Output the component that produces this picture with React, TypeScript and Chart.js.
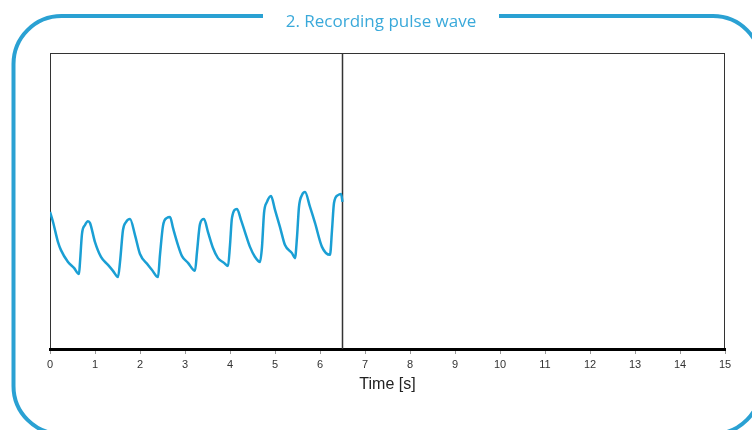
import React, { useEffect, useRef } from "react";
import { Chart, registerables } from "chart.js";

Chart.register(...registerables);

const TITLE = "2. Recording pulse wave";
const X_TITLE = "Time [s]";
const X_MIN = 0;
const X_MAX = 15;
const CURSOR_TIME = 6.5;

const timeS = [
  0.0, 0.067, 0.178, 0.244, 0.4, 0.533, 0.644, 0.667, 0.711, 0.778, 0.844, 0.889,
  1.0, 1.133, 1.289, 1.4, 1.511, 1.556, 1.622, 1.689, 1.778, 1.889, 2.0, 2.178,
  2.267, 2.4, 2.444, 2.511, 2.6, 2.667, 2.733, 2.844, 2.933, 3.067, 3.222, 3.267,
  3.333, 3.422, 3.511, 3.622, 3.733, 3.867, 3.956, 4.0, 4.044, 4.156, 4.244, 4.333,
  4.444, 4.556, 4.667, 4.711, 4.756, 4.822, 4.911, 5.0, 5.111, 5.222, 5.378, 5.444,
  5.489, 5.533, 5.6, 5.667, 5.778, 5.889, 6.044, 6.222, 6.267, 6.311, 6.4, 6.467, 6.5,
];

const pulse = [
  46.3, 42.9, 36.1, 33.4, 29.4, 27.4, 25.3, 29.4, 38.9, 41.9, 43.2, 42.6,
  36.1, 31.1, 28.4, 26.4, 24.3, 29.4, 40.2, 42.9, 43.9, 38.5, 32.1, 28.4,
  26.7, 24.3, 31.8, 41.6, 44.3, 44.6, 40.9, 35.1, 31.4, 29.1, 26.4, 32.8,
  42.2, 43.9, 39.5, 34.1, 30.7, 29.1, 28.0, 35.1, 44.3, 47.3, 43.6, 39.5,
  34.5, 31.1, 29.4, 34.5, 45.9, 49.7, 51.7, 47.0, 41.2, 35.1, 32.4, 30.7,
  37.8, 48.0, 52.0, 53.0, 48.0, 42.6, 34.5, 31.8, 40.2, 49.3, 52.0, 52.4, 49.7,
];

const Y_MIN = 0;
const Y_MAX = 100;

const framePlugin = {
  id: "framePlugin",
  beforeDraw(chart: any) {
    const { ctx, chartArea } = chart;
    ctx.save();
    ctx.fillStyle = "#ffffff";
    ctx.fillRect(0, 0, chart.width, chart.height);
    ctx.strokeStyle = "#333333";
    ctx.lineWidth = 1;
    ctx.strokeRect(
      Math.round(chartArea.left) + 0.5,
      Math.round(chartArea.top) + 0.5,
      Math.round(chartArea.right - chartArea.left) - 1,
      Math.round(chartArea.bottom - chartArea.top)
    );
    ctx.restore();
  },
  afterDraw(chart: any) {
    const { ctx } = chart;
    ctx.save();
    const l = 13.5, t = 16, r = 761, b = 434, rad = 48;
    const gapL = 263, gapR = 499;
    ctx.strokeStyle = "#2aa1d3";
    ctx.lineWidth = 4;
    ctx.lineCap = "butt";
    ctx.beginPath();
    ctx.moveTo(gapL, t);
    ctx.lineTo(l + rad, t);
    ctx.arcTo(l, t, l, t + rad, rad);
    ctx.lineTo(l, b - rad);
    ctx.arcTo(l, b, l + rad, b, rad);
    ctx.lineTo(r - rad, b);
    ctx.arcTo(r, b, r, b - rad, rad);
    ctx.lineTo(r, t + rad);
    ctx.arcTo(r, t, r - rad, t, rad);
    ctx.lineTo(gapR, t);
    ctx.stroke();
    ctx.fillStyle = "#3aa9da";
    ctx.font = "17px 'Open Sans', 'Noto Sans', sans-serif";
    ctx.textAlign = "center";
    ctx.textBaseline = "middle";
    ctx.fillText(TITLE, (gapL + gapR) / 2, 22);
    ctx.restore();
  },
};

export default function App() {
  const ref = useRef<HTMLCanvasElement | null>(null);
  useEffect(() => {
    if (!ref.current) return;
    const chart = new Chart(ref.current, {
      type: "line",
      data: {
        datasets: [
          {
            data: timeS.map((x, i) => ({ x, y: pulse[i] })),
            borderColor: "#1a9fd4",
            borderWidth: 2.5,
            pointRadius: 0,
            cubicInterpolationMode: "monotone",
            fill: false,
          },
          {
            data: [
              { x: CURSOR_TIME, y: Y_MIN },
              { x: CURSOR_TIME, y: Y_MAX },
            ],
            borderColor: "#333333",
            borderWidth: 1.5,
            pointRadius: 0,
            fill: false,
          },
        ],
      },
      options: {
        animation: false,
        responsive: false,
        events: [],
        layout: { padding: { left: 50, right: 27, top: 53, bottom: 36 } },
        plugins: {
          legend: { display: false },
          title: { display: false },
          tooltip: { enabled: false },
        },
        scales: {
          x: {
            type: "linear",
            min: X_MIN,
            max: X_MAX,
            ticks: {
              stepSize: 1,
              color: "#333333",
              font: { family: "'Liberation Sans', Arial, sans-serif", size: 11 },
              padding: 4,
              maxRotation: 0,
            },
            grid: {
              display: true,
              drawOnChartArea: false,
              drawTicks: true,
              tickLength: 5,
              color: "#999999",
            },
            border: { display: true, color: "#000000", width: 3 },
            title: {
              display: true,
              text: X_TITLE,
              color: "#222222",
              font: { family: "'Liberation Sans', Arial, sans-serif", size: 16 },
              padding: { top: 0, bottom: 0 },
            },
            afterFit: (s: any) => {
              s.height = 45;
            },
          },
          y: {
            type: "linear",
            min: Y_MIN,
            max: Y_MAX,
            display: false,
          },
        },
      },
      plugins: [framePlugin],
    });
    return () => chart.destroy();
  }, []);
  return (
    <div style={{ position: "absolute", left: 0, top: 0, width: 752, height: 430, overflow: "hidden" }}>
      <canvas ref={ref} width={752} height={430} style={{ display: "block" }} />
    </div>
  );
}
